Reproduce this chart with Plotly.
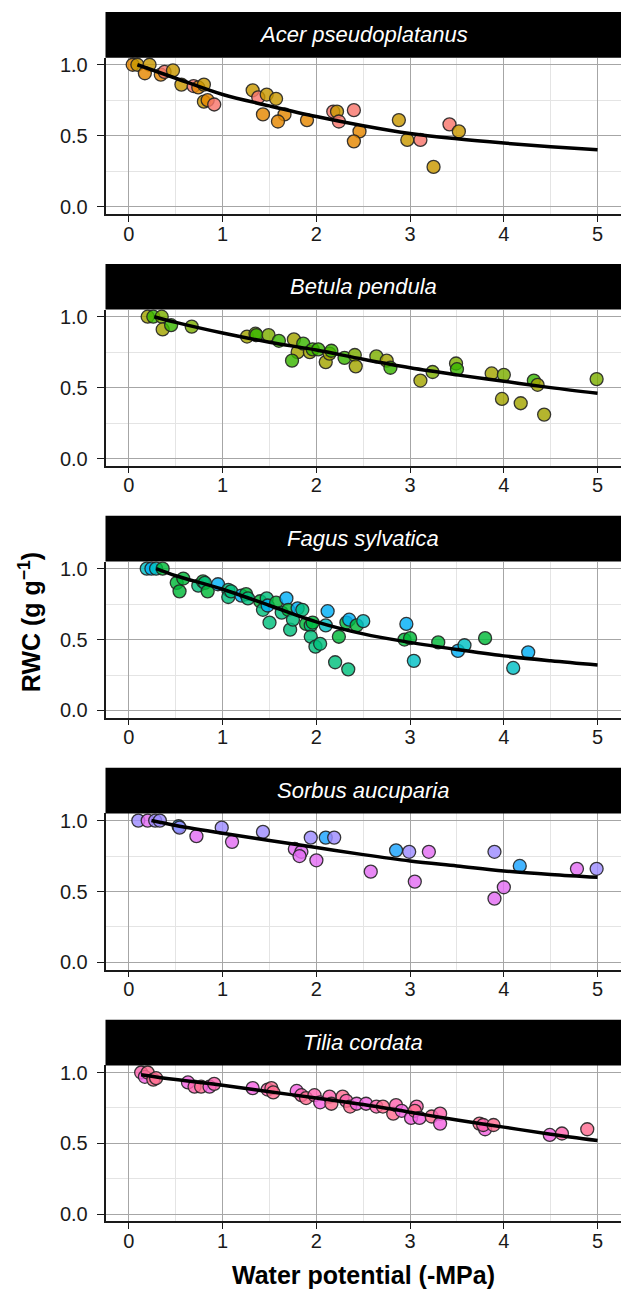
import plotly.graph_objects as go

# ---- data -------------------------------------------------------------
species = ["Acer pseudoplatanus", "Betula pendula", "Fagus sylvatica",
           "Sorbus aucuparia", "Tilia cordata"]

# colour of each tree (one code per measured sample)
palette = {
    "acer_g": "#C99800", "acer_o": "#E58700", "acer_s": "#F8766D",
    "bet_ol": "#A3A500", "bet_yg": "#7CAE00", "bet_gr": "#39B600",
    "fag_g": "#00BA38", "fag_t": "#00BF7D", "fag_c": "#00BFC4", "fag_b": "#00B0F6",
    "sor_b": "#1AA3FF", "sor_p": "#9E8CFF", "sor_m": "#E36EF3",
    "til_k": "#F564E3", "til_q": "#FF64B0", "til_r": "#FF6C91",
}

acer_psi = [0.04, 0.09, 0.22, 0.17, 0.34, 0.38, 0.47, 0.56, 0.69, 0.74, 0.80, 0.80,
            0.84, 0.91, 1.32, 1.38, 1.47, 1.57, 1.43, 1.66, 1.59, 1.90, 2.18, 2.22,
            2.24, 2.40, 2.46, 2.40, 2.88, 2.97, 3.11, 3.25, 3.42, 3.52]
acer_rwc = [1.00, 1.00, 1.00, 0.94, 0.93, 0.95, 0.96, 0.86, 0.85, 0.84, 0.86, 0.74,
            0.75, 0.72, 0.82, 0.77, 0.79, 0.76, 0.65, 0.65, 0.60, 0.61, 0.67, 0.67,
            0.60, 0.68, 0.53, 0.46, 0.61, 0.47, 0.47, 0.28, 0.58, 0.53]
acer_tree = ["o", "g", "g", "o", "o", "s", "g", "g", "s", "o", "g", "g",
             "o", "s", "g", "s", "g", "g", "o", "o", "o", "o", "s", "g",
             "s", "s", "o", "o", "g", "g", "s", "g", "s", "g"]

betula_psi = [0.20, 0.26, 0.35, 0.36, 0.45, 0.67, 1.26, 1.35, 1.36, 1.49, 1.60, 1.76,
              1.80, 1.74, 1.86, 1.93, 1.96, 2.02, 2.10, 2.14, 2.16, 2.30, 2.41, 2.42,
              2.64, 2.75, 2.79, 3.11, 3.24, 3.49, 3.50, 3.87, 4.00, 3.98, 4.18, 4.32,
              4.36, 4.43, 4.99]
betula_rwc = [1.00, 1.00, 1.00, 0.91, 0.94, 0.93, 0.86, 0.88, 0.87, 0.87, 0.83, 0.84,
              0.75, 0.69, 0.81, 0.75, 0.77, 0.77, 0.68, 0.74, 0.76, 0.71, 0.73, 0.65,
              0.72, 0.69, 0.64, 0.55, 0.61, 0.67, 0.63, 0.60, 0.59, 0.42, 0.39, 0.55,
              0.52, 0.31, 0.56]
betula_tree = ["ol", "gr", "yg", "ol", "gr", "yg", "ol", "yg", "gr", "yg", "gr", "ol",
               "ol", "gr", "gr", "ol", "gr", "gr", "ol", "ol", "gr", "gr", "yg", "ol",
               "yg", "ol", "gr", "ol", "yg", "yg", "gr", "ol", "yg", "ol", "ol", "gr",
               "ol", "ol", "yg"]

fagus_psi = [0.19, 0.24, 0.29, 0.36, 0.51, 0.54, 0.58, 0.74, 0.79, 0.81, 0.84, 0.95,
             1.06, 1.06, 1.09, 1.20, 1.25, 1.27, 1.40, 1.43, 1.47, 1.48, 1.50, 1.57,
             1.63, 1.68, 1.70, 1.72, 1.75, 1.80, 1.85, 1.89, 1.94, 1.96, 1.94, 1.99,
             2.04, 2.10, 2.12, 2.20, 2.24, 2.32, 2.35, 2.34, 2.43, 2.50, 2.96, 2.94,
             3.00, 3.04, 3.30, 3.51, 3.58, 3.80, 4.10, 4.26]
fagus_rwc = [1.00, 1.00, 1.00, 1.00, 0.90, 0.84, 0.93, 0.88, 0.91, 0.90, 0.84, 0.89,
             0.85, 0.80, 0.84, 0.81, 0.82, 0.79, 0.77, 0.71, 0.79, 0.74, 0.62, 0.76,
             0.69, 0.79, 0.71, 0.57, 0.64, 0.72, 0.71, 0.61, 0.60, 0.62, 0.52, 0.45,
             0.47, 0.60, 0.70, 0.34, 0.52, 0.62, 0.64, 0.29, 0.60, 0.63, 0.61, 0.50,
             0.51, 0.35, 0.48, 0.42, 0.46, 0.51, 0.30, 0.41]
fagus_tree = ["c", "b", "c", "g", "g", "g", "g", "t", "g", "t", "g", "b",
              "t", "t", "t", "b", "g", "t", "g", "t", "t", "b", "t", "g",
              "t", "b", "g", "t", "t", "b", "t", "g", "t", "g", "t", "t",
              "t", "c", "b", "t", "g", "g", "b", "t", "g", "c", "b", "g",
              "g", "c", "g", "b", "c", "g", "c", "b"]

sorbus_psi = [0.10, 0.20, 0.28, 0.33, 0.53, 0.54, 0.72, 0.99, 1.10, 1.43, 1.77, 1.84,
              1.82, 1.94, 2.00, 2.10, 2.19, 2.58, 2.85, 2.99, 3.05, 3.20, 3.90, 3.90,
              4.00, 4.17, 4.78, 4.99]
sorbus_rwc = [1.00, 1.00, 1.00, 1.00, 0.96, 0.95, 0.89, 0.95, 0.85, 0.92, 0.80, 0.78,
              0.75, 0.88, 0.72, 0.88, 0.88, 0.64, 0.79, 0.78, 0.57, 0.78, 0.78, 0.45,
              0.53, 0.68, 0.66, 0.66]
sorbus_tree = ["p", "m", "p", "p", "b", "p", "m", "p", "m", "p", "m", "m",
               "m", "p", "m", "b", "p", "m", "b", "p", "m", "m", "p", "m",
               "m", "b", "m", "p"]

tilia_psi = [0.13, 0.17, 0.20, 0.26, 0.29, 0.63, 0.70, 0.77, 0.86, 0.91, 1.32, 1.48,
             1.52, 1.54, 1.79, 1.84, 1.89, 1.98, 2.04, 2.14, 2.16, 2.28, 2.32, 2.36,
             2.43, 2.53, 2.64, 2.71, 2.82, 2.85, 2.91, 3.01, 3.07, 3.05, 3.10, 3.23,
             3.32, 3.32, 3.74, 3.80, 3.78, 3.89, 4.49, 4.62, 4.89]
tilia_rwc = [1.00, 0.97, 1.00, 0.95, 0.96, 0.93, 0.90, 0.90, 0.90, 0.92, 0.89, 0.88,
             0.89, 0.86, 0.87, 0.84, 0.82, 0.84, 0.79, 0.83, 0.78, 0.83, 0.80, 0.76,
             0.78, 0.78, 0.76, 0.76, 0.71, 0.77, 0.73, 0.68, 0.76, 0.73, 0.68, 0.69,
             0.71, 0.64, 0.64, 0.60, 0.63, 0.63, 0.56, 0.57, 0.60]
tilia_tree = ["q", "k", "r", "r", "r", "k", "q", "r", "k", "q", "k", "q",
              "r", "r", "k", "q", "r", "q", "k", "q", "r", "r", "q", "r",
              "k", "k", "q", "r", "r", "q", "k", "k", "q", "r", "k", "r",
              "q", "k", "r", "k", "q", "r", "k", "q", "r"]

# fitted RWC curves (value of the fit at each water potential)
acer_fit_psi = [0.09, 0.5, 1.0, 1.5, 2.0, 2.5, 3.0, 3.5, 4.0, 4.5, 5.0]
acer_fit_rwc = [1.00, 0.905, 0.79, 0.71, 0.635, 0.57, 0.515, 0.478, 0.448, 0.422, 0.40]
betula_fit_psi = [0.27, 0.5, 1.0, 1.5, 2.0, 2.5, 3.0, 3.5, 4.0, 4.5, 5.0]
betula_fit_rwc = [1.00, 0.96, 0.885, 0.82, 0.765, 0.70, 0.64, 0.59, 0.545, 0.50, 0.46]
fagus_fit_psi = [0.29, 0.5, 1.0, 1.5, 2.0, 2.5, 3.0, 3.5, 4.0, 4.5, 5.0]
fagus_fit_rwc = [1.00, 0.95, 0.855, 0.74, 0.625, 0.54, 0.48, 0.43, 0.385, 0.35, 0.32]
sorbus_fit_psi = [0.24, 0.5, 1.0, 1.5, 2.0, 2.5, 3.0, 3.5, 4.0, 4.5, 5.0]
sorbus_fit_rwc = [1.00, 0.965, 0.91, 0.86, 0.81, 0.76, 0.715, 0.68, 0.645, 0.62, 0.60]
tilia_fit_psi = [0.13, 0.5, 1.0, 1.5, 2.0, 2.5, 3.0, 3.5, 4.0, 4.5, 5.0]
tilia_fit_rwc = [0.985, 0.95, 0.91, 0.865, 0.82, 0.775, 0.72, 0.665, 0.615, 0.565, 0.52]

panels = [
    ("acer", acer_psi, acer_rwc, acer_tree, acer_fit_psi, acer_fit_rwc),
    ("bet", betula_psi, betula_rwc, betula_tree, betula_fit_psi, betula_fit_rwc),
    ("fag", fagus_psi, fagus_rwc, fagus_tree, fagus_fit_psi, fagus_fit_rwc),
    ("sor", sorbus_psi, sorbus_rwc, sorbus_tree, sorbus_fit_psi, sorbus_fit_rwc),
    ("til", tilia_psi, tilia_rwc, tilia_tree, tilia_fit_psi, tilia_fit_rwc),
]

# ---- layout geometry (pixels) -----------------------------------------
W, H = 621, 1300
LEFT = 105.5
STEP = 253.5
STRIP_TOP, STRIP_H, PANEL_H = 8, 46, 157


def px_y(p):
    return 1 - p / H


def rgba(hex_color, a):
    h = hex_color.lstrip("#")
    r, g, b = int(h[0:2], 16), int(h[2:4], 16), int(h[4:6], 16)
    return f"rgba({r},{g},{b},{a})"


FONT = "Liberation Sans, Arial, sans-serif"
TICK_FONT = dict(family=FONT, size=20, color="#1a1a1a")
MAJOR_GRID = "#a6a6a6"
MINOR_GRID = "#e4e4e4"

fig = go.Figure()
layout_axes = {}
shapes = []
annotations = []

for i, (key, psi, rwc, tree, fpsi, frwc) in enumerate(panels):
    n = i + 1
    xa = "x" if n == 1 else f"x{n}"
    ya = "y" if n == 1 else f"y{n}"
    strip_top = STRIP_TOP + STEP * i
    plot_top = strip_top + STRIP_H
    plot_bot = plot_top + PANEL_H

    colors = [rgba(palette[f"{key}_{t}"], 0.82) for t in tree]
    fig.add_trace(go.Scatter(
        x=psi, y=rwc, mode="markers", xaxis=xa, yaxis=ya, showlegend=False,
        marker=dict(size=13, color=colors,
                    line=dict(color="rgba(35,35,35,0.9)", width=1.3)),
        cliponaxis=False,
    ))
    fig.add_trace(go.Scatter(
        x=fpsi, y=frwc, mode="lines", xaxis=xa, yaxis=ya, showlegend=False,
        line=dict(color="black", width=3.5, shape="spline"),
    ))

    xname = "xaxis" if n == 1 else f"xaxis{n}"
    yname = "yaxis" if n == 1 else f"yaxis{n}"
    layout_axes[xname] = dict(
        domain=[LEFT / W, 1], anchor=ya, range=[-0.25, 5.25],
        tickmode="array", tickvals=[0, 1, 2, 3, 4, 5],
        ticks="outside", ticklen=6, tickwidth=1.2, tickcolor="#1a1a1a",
        tickfont=TICK_FONT, ticklabelstandoff=-5,
        showgrid=True, gridcolor=MAJOR_GRID, gridwidth=1,
        minor=dict(tickmode="array", tickvals=[0.5, 1.5, 2.5, 3.5, 4.5],
                   showgrid=True, gridcolor=MINOR_GRID, gridwidth=1, ticks=""),
        showline=True, linecolor="#1a1a1a", linewidth=1.6, mirror=False,
        zeroline=False, fixedrange=True,
    )
    if n > 1:
        layout_axes[xname]["matches"] = "x"
    layout_axes[yname] = dict(
        domain=[px_y(plot_bot), px_y(plot_top)], anchor=xa, range=[-0.05, 1.05],
        tickmode="array", tickvals=[0, 0.5, 1.0], ticktext=["0.0", "0.5", "1.0"],
        ticks="outside", ticklen=7, tickwidth=1.2, tickcolor="#1a1a1a",
        tickfont=TICK_FONT, ticklabelstandoff=5,
        showgrid=True, gridcolor=MAJOR_GRID, gridwidth=1,
        minor=dict(tickmode="array", tickvals=[0.25, 0.75],
                   showgrid=True, gridcolor=MINOR_GRID, gridwidth=1, ticks=""),
        showline=True, linecolor="#1a1a1a", linewidth=1.6, mirror=False,
        zeroline=False, fixedrange=True,
    )

    # facet strip
    shapes.append(dict(type="rect", xref="paper", yref="paper",
                       x0=LEFT / W, x1=1, y0=px_y(plot_top), y1=px_y(strip_top),
                       fillcolor="black", line=dict(width=0), layer="above"))
    annotations.append(dict(
        xref="paper", yref="paper", x=(LEFT + W) / 2 / W,
        y=px_y(strip_top + STRIP_H / 2), showarrow=False,
        text=f"<i>{species[i]}</i>", xanchor="center", yanchor="middle",
        font=dict(family=FONT, size=22, color="white"),
    ))

# axis titles
annotations.append(dict(
    xref="paper", yref="paper", x=(LEFT + W) / 2 / W, y=px_y(1279),
    text="<b>Water potential (-MPa)</b>", showarrow=False,
    xanchor="center", yanchor="middle",
    font=dict(family=FONT, size=25, color="black"),
))
annotations.append(dict(
    xref="paper", yref="paper", x=30 / W, y=px_y(622),
    text="<b>RWC (g g<sup>−1</sup>)</b>", showarrow=False, textangle=-90,
    xanchor="center", yanchor="middle",
    font=dict(family=FONT, size=25, color="black"),
))

fig.update_layout(
    width=W, height=H, margin=dict(l=0, r=0, t=0, b=0),
    paper_bgcolor="white", plot_bgcolor="white",
    shapes=shapes, annotations=annotations, showlegend=False,
    **layout_axes,
)

fig.write_html("out.html", config={"displayModeBar": False})
